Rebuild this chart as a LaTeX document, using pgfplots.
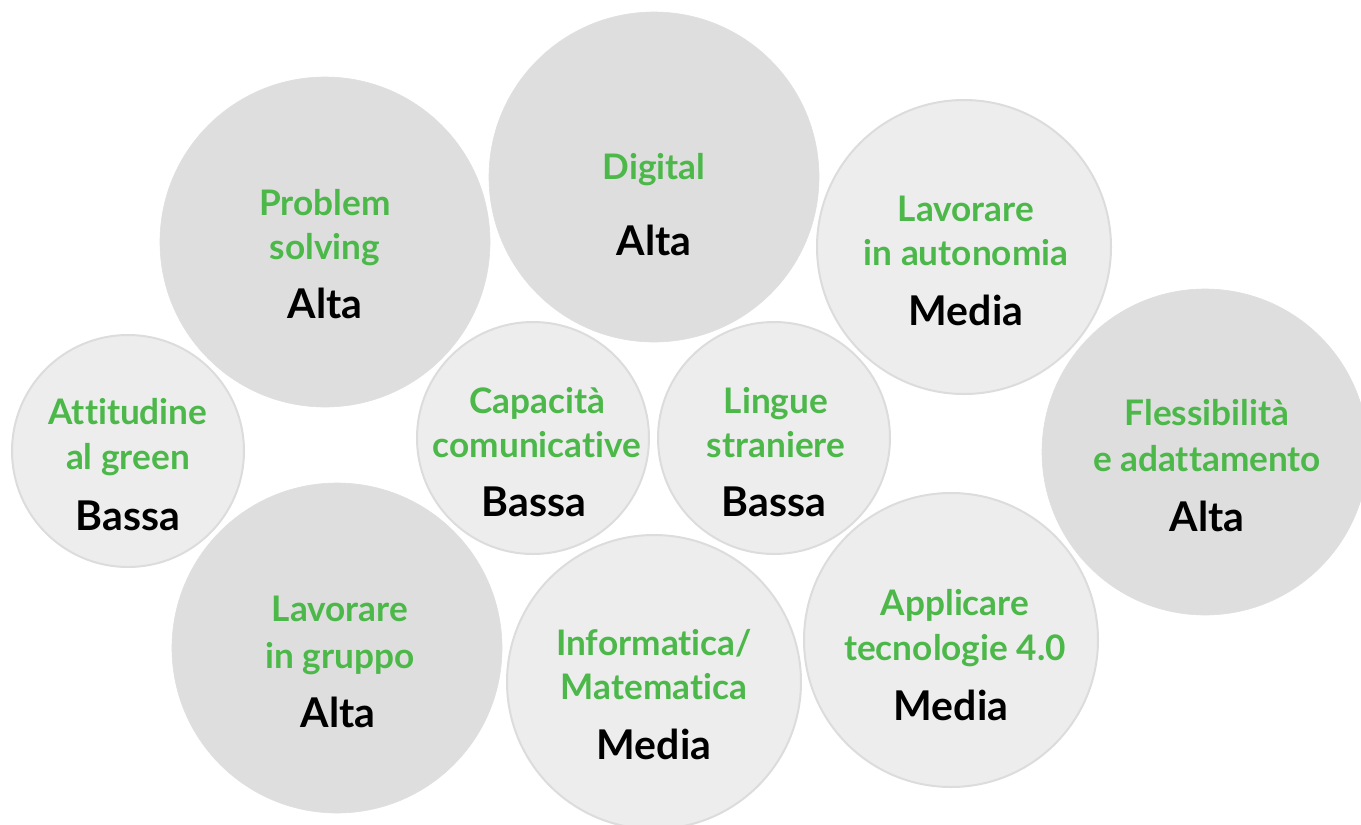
\documentclass[border=0pt]{standalone}
\usepackage{pgfplots}
\pgfplotsset{compat=1.18}
\usepackage{fontspec}
\setmainfont{Lato}[Ligatures={NoCommon}]
\definecolor{altafill}{HTML}{DEDEDE}
\definecolor{lightfill}{HTML}{EDEDED}
\definecolor{lightedge}{HTML}{DCDCDC}
\definecolor{skillgreen}{HTML}{4CB84A}
\newcommand{\gfont}{\bfseries\fontsize{17.6}{20}\selectfont}
\newcommand{\bfont}{\bfseries\fontsize{20.5}{24}\selectfont}
\begin{document}
\begin{tikzpicture}
\path[use as bounding box] (0,0) rectangle (680.5pt,412.5pt);
\begin{axis}[x=0.5pt, y=0.5pt, xmin=0, xmax=1361, ymin=0, ymax=825,
  y dir=reverse, hide axis, anchor=south west, at={(0,0)},
  clip marker paths=true]
% Alta circles
\addplot[scatter, only marks, mark=*,
  mark options={fill=altafill, draw=altafill, line width=0.3pt},
  scatter/use mapped color={fill=altafill, draw=altafill},
  visualization depends on={0.5*\thisrow{r} \as \rad},
  scatter/@pre marker code/.append style={/tikz/mark size=\rad}]
  table {
x y r
325 242 165
654 177 165
1205 452 163
337 648 165
};
% Media / Bassa circles
\addplot[scatter, only marks, mark=*,
  mark options={fill=lightfill, draw=lightedge, line width=1pt},
  scatter/use mapped color={fill=lightfill, draw=lightedge},
  visualization depends on={0.5*\thisrow{r} \as \rad},
  scatter/@pre marker code/.append style={/tikz/mark size=\rad}]
  table {
x y r
964 247 147
128 451 116
533 438 116
774 438 116
654 682 147
951 640 147
};
% Problem solving
\node[anchor=base, text=skillgreen, font=\gfont] at (axis cs:325,215) {Problem};
\node[anchor=base, text=skillgreen, font=\gfont] at (axis cs:325,259) {solving};
\node[anchor=base, text=black, font=\bfont] at (axis cs:325,318) {Alta};
% Digital
\node[anchor=base, text=skillgreen, font=\gfont] at (axis cs:654,179) {Digital};
\node[anchor=base, text=black, font=\bfont] at (axis cs:654,255) {Alta};
% Lavorare in autonomia
\node[anchor=base, text=skillgreen, font=\gfont] at (axis cs:966,221) {Lavorare};
\node[anchor=base, text=skillgreen, font=\gfont] at (axis cs:966,265) {in autonomia};
\node[anchor=base, text=black, font=\bfont] at (axis cs:966,325) {Media};
% Flessibilita
\node[anchor=base, text=skillgreen, font=\gfont] at (axis cs:1207,425) {Flessibilità};
\node[anchor=base, text=skillgreen, font=\gfont] at (axis cs:1207,471) {e adattamento};
\node[anchor=base, text=black, font=\bfont] at (axis cs:1207,531) {Alta};
% Attitudine al green
\node[anchor=base, text=skillgreen, font=\gfont] at (axis cs:128,424) {Attitudine};
\node[anchor=base, text=skillgreen, font=\gfont] at (axis cs:128,469) {al green};
\node[anchor=base, text=black, font=\bfont] at (axis cs:128,530) {Bassa};
% Capacita comunicative
\node[anchor=base, text=skillgreen, font=\gfont] at (axis cs:537,413) {Capacità};
\node[anchor=base, text=skillgreen, font=\gfont] at (axis cs:537,457) {comunicative};
\node[anchor=base, text=black, font=\bfont] at (axis cs:534,516) {Bassa};
% Lingue straniere
\node[anchor=base, text=skillgreen, font=\gfont] at (axis cs:776,413) {Lingue};
\node[anchor=base, text=skillgreen, font=\gfont] at (axis cs:776,457) {straniere};
\node[anchor=base, text=black, font=\bfont] at (axis cs:774,516) {Bassa};
% Lavorare in gruppo
\node[anchor=base, text=skillgreen, font=\gfont] at (axis cs:340,621) {Lavorare};
\node[anchor=base, text=skillgreen, font=\gfont] at (axis cs:340,668) {in gruppo};
\node[anchor=base, text=black, font=\bfont] at (axis cs:338,727) {Alta};
% Informatica / Matematica
\node[anchor=base, text=skillgreen, font=\gfont] at (axis cs:654,655) {Informatica/};
\node[anchor=base, text=skillgreen, font=\gfont] at (axis cs:654,699) {Matematica};
\node[anchor=base, text=black, font=\bfont] at (axis cs:654,759) {Media};
% Applicare tecnologie 4.0
\node[anchor=base, text=skillgreen, font=\gfont] at (axis cs:955,615) {Applicare};
\node[anchor=base, text=skillgreen, font=\gfont] at (axis cs:955,660) {tecnologie 4.0};
\node[anchor=base, text=black, font=\bfont] at (axis cs:951,720) {Media};
\end{axis}
\end{tikzpicture}
\end{document}
